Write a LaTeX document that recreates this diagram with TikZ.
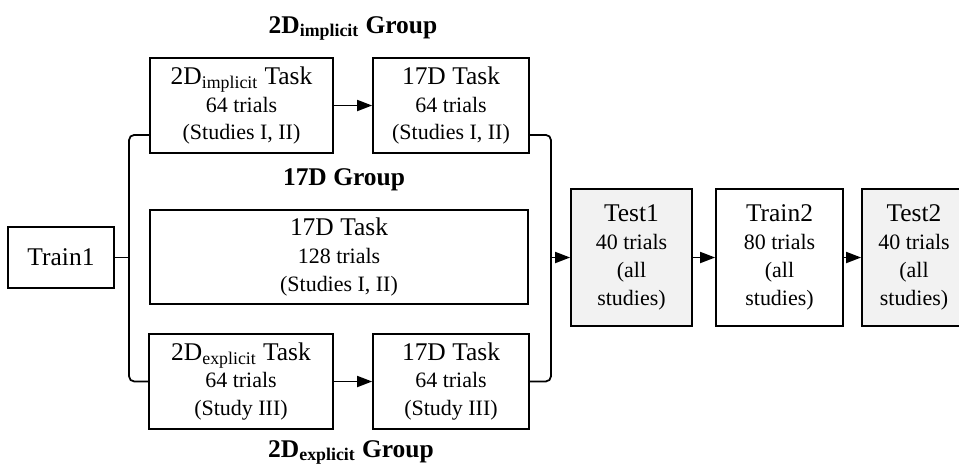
\documentclass[tikz,border=0pt]{standalone}
\usepackage{fontspec}
\setmainfont{Liberation Serif}
\usetikzlibrary{arrows.meta,calc,positioning}

\newcommand{\titulo}{\fontsize{14.5}{15.5}\selectfont}
\newcommand{\cuerpo}{\fontsize{12.5}{15.8}\selectfont}
\newcommand{\grupo}{\fontsize{14.5}{17}\selectfont\bfseries}

\begin{document}
\begin{tikzpicture}[x=0.02cm,y=-0.02cm,
    caja/.style={draw,line width=1pt,align=center,inner sep=0pt,minimum height=1.9cm,font=\cuerpo},
    prueba/.style={caja,fill=gris,minimum height=2.74cm},
    flecha/.style={line width=1pt,-{Triangle[length=3mm,width=2.2mm]}},
    linea/.style={line width=1pt,rounded corners=3pt}]
    % Colores
    \colorlet{gris}{gray!10}

    % Marco
    \useasboundingbox (0,0) rectangle (959,464);

    % Entrenamiento inicial
    \node[caja,minimum width=2.12cm,minimum height=1.22cm] (train1) at (61,257.5) {\titulo Train1};

    % Grupo 2D implicito
    \node[caja,minimum width=3.66cm] (impTask) at (241.5,105.5) {{\titulo 2D\textsubscript{implicit} Task}\\ 64 trials\\ (Studies I, II)};
    \node[caja,minimum width=3.12cm] (imp17) at (451,105.5) {{\titulo 17D Task}\\ 64 trials\\ (Studies I, II)};

    % Grupo 17D
    \node[caja,minimum width=7.56cm,minimum height=1.88cm] (mid17) at (339,257) {{\titulo 17D Task}\\ 128 trials\\ (Studies I, II)};

    % Grupo 2D explicito
    \node[caja,minimum width=3.68cm] (expTask) at (241,381.5) {{\titulo 2D\textsubscript{explicit} Task}\\ 64 trials\\ (Study III)};
    \node[caja,minimum width=3.12cm] (exp17) at (451,381.5) {{\titulo 17D Task}\\ 64 trials\\ (Study III)};

    % Pruebas y segundo entrenamiento
    \node[prueba,minimum width=2.42cm] (test1) at (631.5,257.5) {{\titulo Test1}\\ 40 trials\\ (all\\ studies)};
    \node[caja,minimum width=2.54cm,minimum height=2.74cm] (train2) at (779.5,257.5) {{\titulo Train2}\\ 80 trials\\ (all\\ studies)};
    \node[prueba,minimum width=2.08cm] (test2) at (914,257.5) {{\titulo Test2}\\ 40 trials\\ (all\\ studies)};

    % Nombres de los grupos
    \node[font=\grupo,anchor=base] (impGrupo) at (353,33) {2D\textsubscript{implicit} Group};
    \node[font=\grupo,anchor=base] (medGrupo) at (344,185) {17D Group};
    \node[font=\grupo,anchor=base] (expGrupo) at (351,457) {2D\textsubscript{explicit} Group};

    % Bifurcacion y union
    \coordinate (split) at (129,257.5);
    \coordinate (merge) at (551,257.5);
    \draw[linea] (train1) -- (split);
    \draw[linea] ([yshift=0.38cm]impTask.south west) -| (split) |- (expTask.west);
    \draw[linea] ([yshift=0.38cm]imp17.south east) -| (merge) |- (exp17.east);

    % Flechas
    \draw[flecha] (impTask) -- (imp17);
    \draw[flecha] (expTask) -- (exp17);
    \draw[flecha] (merge) -- (test1);
    \foreach \a/\b in {test1/train2,train2/test2}
    {
        \draw[flecha] (\a) -- (\b);
    }

\end{tikzpicture}
\end{document}
